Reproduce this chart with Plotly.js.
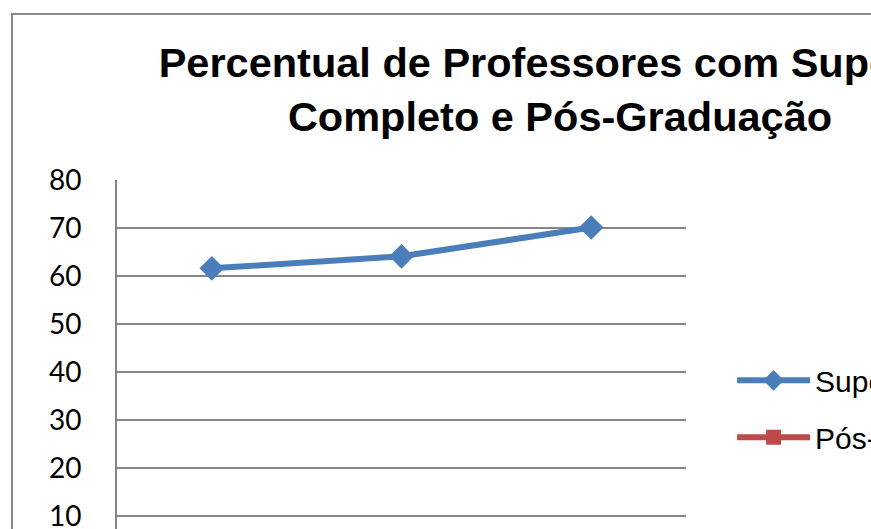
<!DOCTYPE html>
<html>
<head>
<meta charset="utf-8">
<script src="https://cdn.plot.ly/plotly-3.0.1.min.js"></script>
<style>
html,body{margin:0;padding:0;width:871px;height:529px;overflow:hidden;background:#fff;}
#chart{position:absolute;left:11px;top:13px;width:1094px;height:640px;border:2px solid #8a8a8a;}
</style>
</head>
<body>
<div id="chart"></div>
<script>
const categories = ["2008", "2009", "2010"];
const superiorValues = [61.6, 64.1, 70.1];
const posValues = [3.0, 3.5, 4.1];
const seriesNames = ["Superior Completo", "Pós-Graduação"];
const yTicks = [0, 10, 20, 30, 40, 50, 60, 70, 80];

const traces = [
  {
    x: categories, y: superiorValues, name: seriesNames[0], type: "scatter", mode: "lines+markers",
    legendgroup: "a",
    line: {color: "#4A7EBB", width: 6},
    marker: {symbol: "diamond", size: 19, color: "#4A7EBB"}
  },
  {
    x: categories, y: posValues, name: seriesNames[1], type: "scatter", mode: "lines+markers",
    legendgroup: "b",
    line: {color: "#BE4B48", width: 6},
    marker: {symbol: "square", size: 15, color: "#BE4B48"}
  }
];

const layout = {
  width: 1094, height: 640,
  margin: {l: 104, r: 421, t: 165, b: 91},
  paper_bgcolor: "#fff", plot_bgcolor: "#fff",
  title: {
    text: "<b>Percentual de Professores com Superior<br>Completo e Pós-Graduação</b>",
    font: {family: "Liberation Sans, Arial, sans-serif", size: 41.5, color: "#000"},
    x: 0.5, xref: "container", xanchor: "center",
    y: 1, yref: "container", yanchor: "top", pad: {t: 62}
  },
  xaxis: {
    type: "category", range: [-0.5, 2.5], showgrid: false, zeroline: false,
    showline: true, linecolor: "#868686", linewidth: 2,
    tickfont: {family: "Lato, Open Sans, sans-serif", size: 28, color: "#000"}
  },
  yaxis: {
    range: [0, 80], tickvals: yTicks, showgrid: true, gridcolor: "#868686", gridwidth: 2,
    zeroline: false, showline: true, linecolor: "#868686", linewidth: 2,
    ticks: "", ticklabelstandoff: 28,
    tickfont: {family: "Lato, Open Sans, sans-serif", size: 28, color: "#000"}
  },
  showlegend: true,
  legend: {
    x: 1.081, xanchor: "left", y: 0.404, yanchor: "middle",
    traceorder: "grouped", tracegroupgap: 15, itemwidth: 73,
    font: {family: "Liberation Sans, Arial, sans-serif", size: 30, color: "#000"},
    bgcolor: "rgba(0,0,0,0)"
  }
};

Plotly.newPlot("chart", traces, layout, {displayModeBar: false, staticPlot: true});
</script>
</body>
</html>
